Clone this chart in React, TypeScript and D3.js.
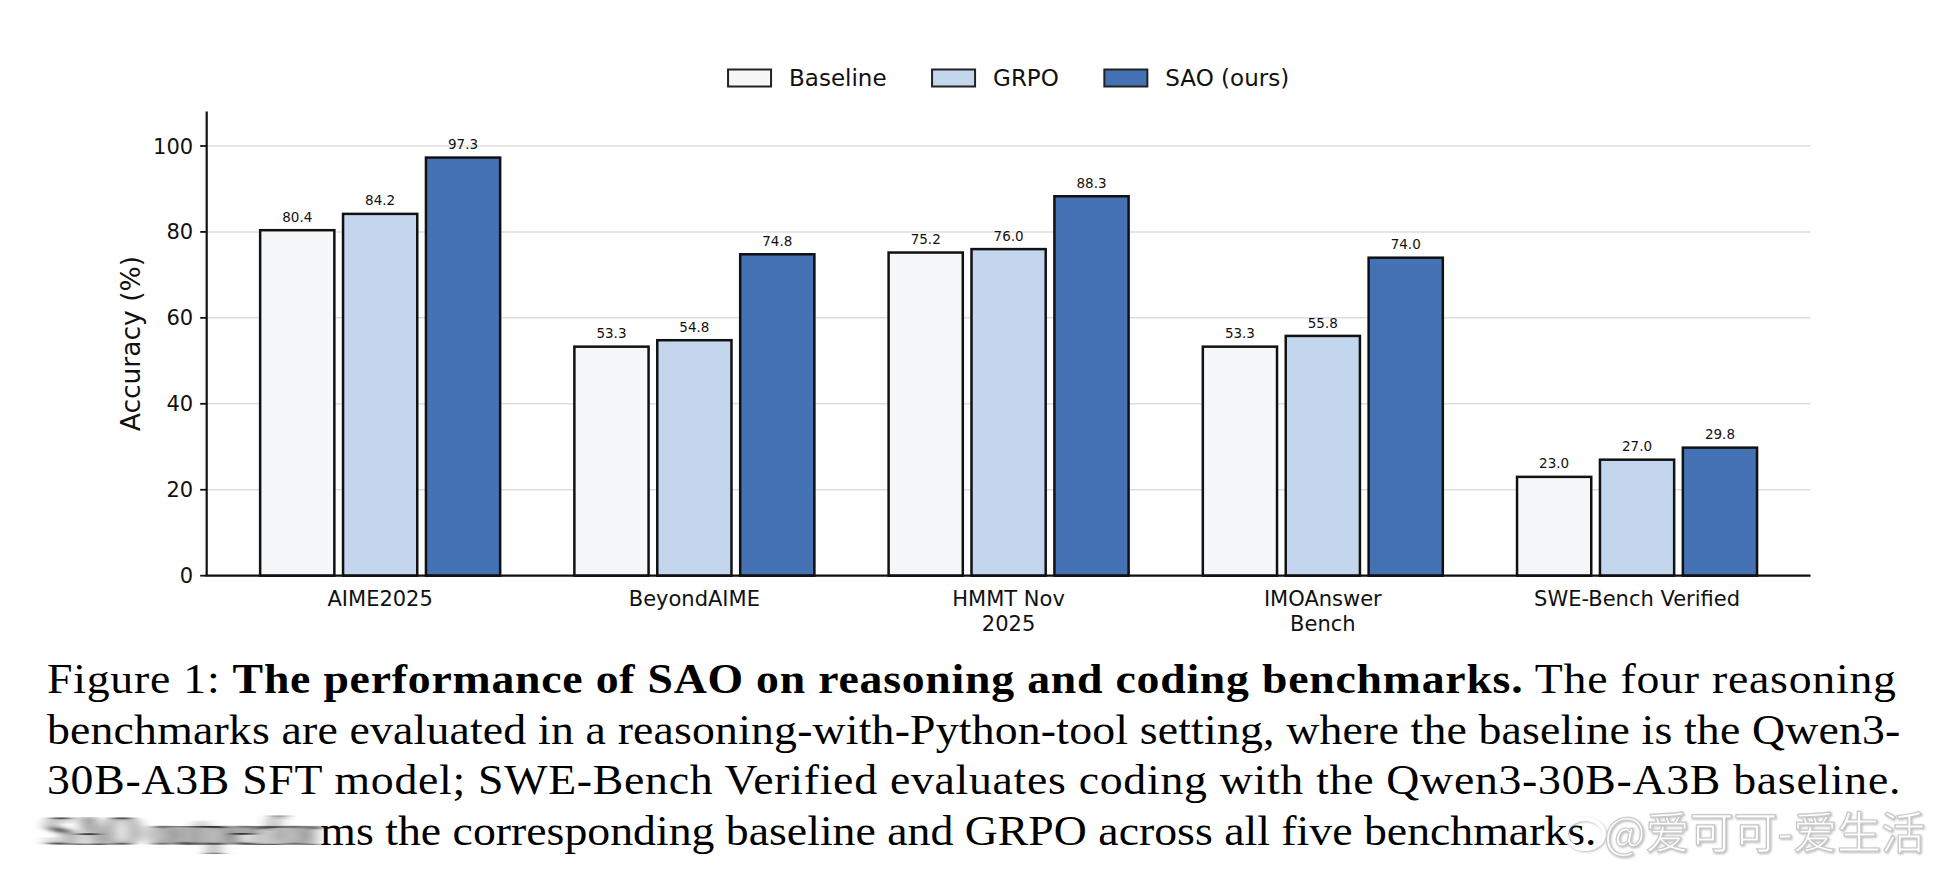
import React from "react";
import * as d3 from "d3";

// Benchmarks (multi-line tick labels split on "\n")
const categories = ["AIME2025", "BeyondAIME", "HMMT Nov\n2025", "IMOAnswer\nBench", "SWE-Bench Verified"];
const seriesNames = ["Baseline", "GRPO", "SAO (ours)"];
const baselineValues = [80.4, 53.3, 75.2, 53.3, 23.0];
const grpoValues = [84.2, 54.8, 76.0, 55.8, 27.0];
const saoValues = [97.3, 74.8, 88.3, 74.0, 29.8];
const yTicks = [0, 20, 40, 60, 80, 100];

const seriesValues = [baselineValues, grpoValues, saoValues];
const seriesColors = ["#f6f7f9", "#c4d6ee", "#4472b4"];

const W = 1948;
const H = 878;
const plot = { left: 206.7, right: 1810.5, top: 111.6, bottom: 575.7 };
const SANS = "DejaVu Sans, Verdana, sans-serif";
const SERIF = "Liberation Serif, Times New Roman, serif";

function textWidth(text: string, font: string): number {
  const c = document.createElement("canvas");
  const ctx = c.getContext("2d");
  if (!ctx) return text.length * 10;
  ctx.font = font;
  return ctx.measureText(text).width;
}

export default function App() {
  const x = d3.scaleLinear().domain([-0.552, 4.552]).range([plot.left, plot.right]);
  const y = d3.scaleLinear().domain([0, 108]).range([plot.bottom, plot.top]);
  const inner = d3
    .scaleBand<number>()
    .domain(seriesNames.map((_, i) => i))
    .range([-0.3819, 0.3819])
    .paddingInner(0.105)
    .paddingOuter(0);

  const legendFont = 23;
  const legendY = 78;
  const patchW = 43;
  const patchH = 17;
  const patchGap = 18;
  const entryGap = 45.5;
  const widths = seriesNames.map((s) => textWidth(s, `${legendFont}px DejaVu Sans`));
  const legendTotal =
    widths.reduce((a, w) => a + patchW + patchGap + w, 0) + entryGap * (seriesNames.length - 1);
  let lx = (plot.left + plot.right) / 2 - legendTotal / 2;
  const legendItems = seriesNames.map((s, i) => {
    const item = { name: s, x: lx, color: seriesColors[i] };
    lx += patchW + patchGap + widths[i] + entryGap;
    return item;
  });

  // caption: serif text, slightly widened horizontally, justified lines fill the measure
  const capFont = 42;
  const capLeft = 47;
  const capRight = 1896;
  const sx = 1.09;
  const measure = (capRight - capLeft) / sx;
  const blurredPart = "SAO outperfor";
  const blurW = textWidth(blurredPart, `${capFont}px Liberation Serif`);
  const capY = [693.5, 744, 794.5, 845];

  return (
    <svg
      width={W}
      height={H}
      viewBox={`0 0 ${W} ${H}`}
      style={{ position: "absolute", left: 0, top: 0, background: "#fff" }}
    >
      <defs>
        <filter id="smear" x="-20%" y="-50%" width="140%" height="200%">
          <feGaussianBlur stdDeviation="7 0.4" />
        </filter>
        <filter id="wmShadow" x="-10%" y="-30%" width="120%" height="160%">
          <feDropShadow dx="1" dy="1" stdDeviation="1.2" floodColor="#888" floodOpacity="0.6" />
        </filter>
      </defs>
      <rect width={W} height={H} fill="#fff" />

      {/* gridlines */}
      {yTicks.map((t) => (
        <line
          key={`g${t}`}
          x1={plot.left}
          x2={plot.right}
          y1={y(t)}
          y2={y(t)}
          stroke="#dedede"
          strokeWidth={1.5}
        />
      ))}

      {/* bars */}
      {seriesValues.map((vals, si) =>
        vals.map((v, ci) => {
          const x0 = x(ci + (inner(si) as number));
          const x1 = x(ci + (inner(si) as number) + inner.bandwidth());
          return (
            <g key={`b${si}-${ci}`}>
              <rect
                x={x0}
                y={y(v)}
                width={x1 - x0}
                height={y(0) - y(v)}
                fill={seriesColors[si]}
                stroke="#111"
                strokeWidth={2.5}
              />
              <text
                x={(x0 + x1) / 2}
                y={y(v) - 8.4}
                textAnchor="middle"
                fontFamily={SANS}
                fontSize={13.5}
                fill="#111"
              >
                {v.toFixed(1)}
              </text>
            </g>
          );
        })
      )}

      {/* spines */}
      <line x1={plot.left} x2={plot.left} y1={plot.top} y2={plot.bottom} stroke="#111" strokeWidth={2.2} />
      <line
        x1={plot.left - 1.1}
        x2={plot.right}
        y1={plot.bottom}
        y2={plot.bottom}
        stroke="#111"
        strokeWidth={2.2}
      />

      {/* y ticks */}
      {yTicks.map((t) => (
        <g key={`t${t}`}>
          <line x1={plot.left - 6.5} x2={plot.left} y1={y(t)} y2={y(t)} stroke="#111" strokeWidth={1.8} />
          <text
            x={plot.left - 13.5}
            y={y(t)}
            dy="0.36em"
            textAnchor="end"
            fontFamily={SANS}
            fontSize={21}
            fill="#111"
          >
            {t}
          </text>
        </g>
      ))}

      <text
        transform={`translate(140,${(plot.top + plot.bottom) / 2}) rotate(-90)`}
        textAnchor="middle"
        fontFamily={SANS}
        fontSize={26.5}
        fill="#111"
      >
        Accuracy (%)
      </text>

      {/* x tick labels */}
      {categories.map((c, ci) => (
        <text key={`x${ci}`} textAnchor="middle" fontFamily={SANS} fontSize={21} fill="#111">
          {c.split("\n").map((line, li) => (
            <tspan key={li} x={x(ci)} y={606 + li * 24.8}>
              {line}
            </tspan>
          ))}
        </text>
      ))}

      {/* legend */}
      {legendItems.map((it) => (
        <g key={it.name}>
          <rect
            x={it.x}
            y={legendY - patchH / 2}
            width={patchW}
            height={patchH}
            fill={it.color}
            stroke="#222"
            strokeWidth={2}
          />
          <text
            x={it.x + patchW + patchGap}
            y={legendY}
            dy="0.36em"
            fontFamily={SANS}
            fontSize={legendFont}
            fill="#111"
          >
            {it.name}
          </text>
        </g>
      ))}

      {/* caption */}
      <g
        transform={`translate(${capLeft},0) scale(${sx},1)`}
        fontFamily={SERIF}
        fontSize={capFont}
        fill="#000"
      >
        <text x={0} y={capY[0]} textLength={measure} lengthAdjust="spacing">
          <tspan>Figure 1: </tspan>
          <tspan fontWeight="bold">The performance of SAO on reasoning and coding benchmarks.</tspan>
          <tspan> The four reasoning</tspan>
        </text>
        <text x={0} y={capY[1]} textLength={measure + 4} lengthAdjust="spacing">
          benchmarks are evaluated in a reasoning-with-Python-tool setting, where the baseline is the Qwen3-
        </text>
        <text x={0} y={capY[2]} textLength={measure + 4} lengthAdjust="spacing">
          30B-A3B SFT model; SWE-Bench Verified evaluates coding with the Qwen3-30B-A3B baseline.
        </text>
        <text x={0} y={capY[3]} filter="url(#smear)">
          {blurredPart}
        </text>
        <text x={blurW} y={capY[3]}>
          ms the corresponding baseline and GRPO across all five benchmarks.
        </text>
      </g>

      {/* watermark */}
      <g filter="url(#wmShadow)">
        <ellipse cx={1585} cy={834} rx={19} ry={15} fill="none" stroke="#fff" strokeWidth={4} />
        <text
          x={1604}
          y={849}
          fontFamily="Noto Sans CJK SC, sans-serif"
          fontSize={44}
          fill="#fff"
          stroke="#c8c8c8"
          strokeWidth={1.2}
        >
          @爱可可-爱生活
        </text>
      </g>
    </svg>
  );
}
